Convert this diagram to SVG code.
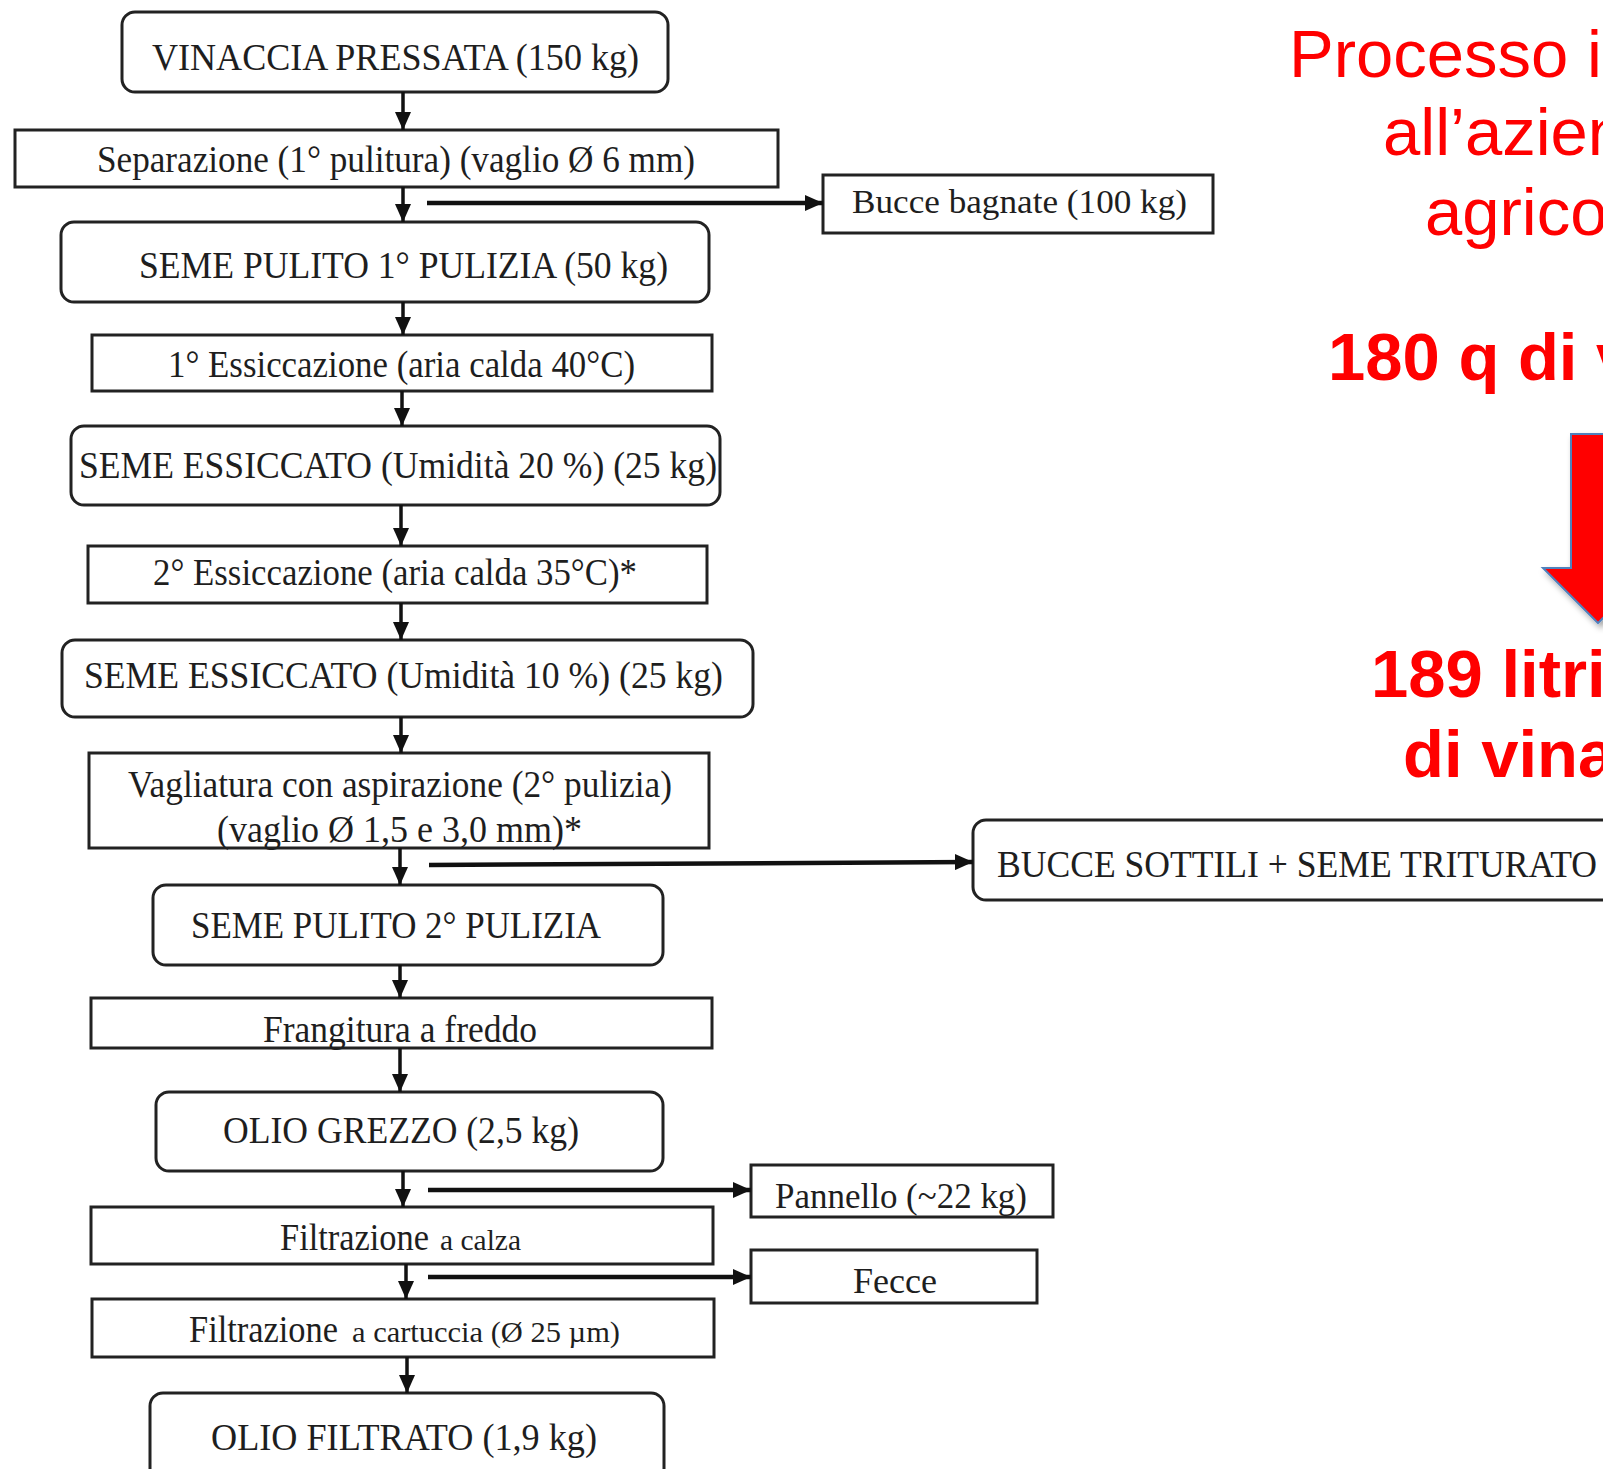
<svg xmlns="http://www.w3.org/2000/svg" width="1603" height="1469" viewBox="0 0 1603 1469">
  <defs>
    <style>
      .box { fill: #ffffff; stroke: #222222; stroke-width: 3; }
      .lbl { font-family: "Liberation Serif", "Times New Roman", serif; fill: #1e1e1e; }
      .flow { stroke: #111111; stroke-width: 3.5; fill: none; }
      .side { stroke: #111111; stroke-width: 4.5; fill: none; }
      .title { font-family: "Liberation Sans", Arial, sans-serif; fill: #ff0000; font-size: 67px; }
      .bold { font-weight: bold; }
    </style>
    <marker id="ah" viewBox="0 0 18 16" refX="18" refY="8" markerWidth="18" markerHeight="16" orient="auto" markerUnits="userSpaceOnUse">
      <path d="M0,0 L18,8 L0,16 z" fill="#111111"/>
    </marker>
    <marker id="ahs" viewBox="0 0 18 16" refX="18" refY="8" markerWidth="18" markerHeight="16" orient="auto" markerUnits="userSpaceOnUse">
      <path d="M0,0 L18,8 L0,16 z" fill="#111111"/>
    </marker>
    <filter id="shadow" x="-20%" y="-20%" width="150%" height="150%">
      <feDropShadow dx="3" dy="4" stdDeviation="3" flood-color="#000000" flood-opacity="0.35"/>
    </filter>
  </defs>

  <rect width="1603" height="1469" fill="#ffffff"/>

  <!-- process steps -->
  <g id="n1">
    <rect class="box" x="122" y="12" width="546" height="80" rx="13"/>
    <text class="lbl" x="152" y="70" font-size="38" textLength="487" lengthAdjust="spacingAndGlyphs">VINACCIA PRESSATA (150 kg)</text>
  </g>
  <g id="n2">
    <rect class="box" x="15" y="130" width="763" height="57"/>
    <text class="lbl" x="97" y="172" font-size="38" textLength="598" lengthAdjust="spacingAndGlyphs">Separazione (1° pulitura) (vaglio Ø 6 mm)</text>
  </g>
  <g id="n2b">
    <rect class="box" x="823" y="175" width="390" height="58"/>
    <text class="lbl" x="852" y="213" font-size="34" textLength="335" lengthAdjust="spacingAndGlyphs">Bucce bagnate (100 kg)</text>
  </g>
  <g id="n3">
    <rect class="box" x="61" y="222" width="648" height="80" rx="13"/>
    <text class="lbl" x="139" y="278" font-size="38" textLength="529" lengthAdjust="spacingAndGlyphs">SEME PULITO 1° PULIZIA  (50 kg)</text>
  </g>
  <g id="n4">
    <rect class="box" x="92" y="335" width="620" height="56"/>
    <text class="lbl" x="168" y="377" font-size="38" textLength="467" lengthAdjust="spacingAndGlyphs">1° Essiccazione (aria calda 40°C)</text>
  </g>
  <g id="n5">
    <rect class="box" x="71" y="426" width="649" height="79" rx="13"/>
    <text class="lbl" x="79" y="478" font-size="38" textLength="638" lengthAdjust="spacingAndGlyphs">SEME ESSICCATO (Umidità 20 %) (25 kg)</text>
  </g>
  <g id="n6">
    <rect class="box" x="88" y="546" width="619" height="57"/>
    <text class="lbl" x="153" y="585" font-size="38" textLength="484" lengthAdjust="spacingAndGlyphs">2° Essiccazione (aria calda 35°C)*</text>
  </g>
  <g id="n7">
    <rect class="box" x="62" y="640" width="691" height="77" rx="13"/>
    <text class="lbl" x="84" y="688" font-size="38" textLength="639" lengthAdjust="spacingAndGlyphs">SEME ESSICCATO (Umidità 10 %) (25 kg)</text>
  </g>
  <g id="n8">
    <rect class="box" x="89" y="753" width="620" height="95"/>
    <text class="lbl" x="128" y="797" font-size="38" textLength="544" lengthAdjust="spacingAndGlyphs">Vagliatura con aspirazione (2° pulizia)</text>
    <text class="lbl" x="217" y="842" font-size="38" textLength="365" lengthAdjust="spacingAndGlyphs">(vaglio Ø  1,5 e 3,0 mm)*</text>
  </g>
  <g id="n8b">
    <rect class="box" x="973" y="820" width="680" height="80" rx="13"/>
    <text class="lbl" x="997" y="877" font-size="38" textLength="600" lengthAdjust="spacingAndGlyphs">BUCCE SOTTILI + SEME TRITURATO</text>
  </g>
  <g id="n9">
    <rect class="box" x="153" y="885" width="510" height="80" rx="13"/>
    <text class="lbl" x="191" y="938" font-size="38" textLength="410" lengthAdjust="spacingAndGlyphs">SEME PULITO 2° PULIZIA</text>
  </g>
  <g id="n10">
    <rect class="box" x="91" y="998" width="621" height="50"/>
    <text class="lbl" x="263" y="1042" font-size="38" textLength="274" lengthAdjust="spacingAndGlyphs">Frangitura a freddo</text>
  </g>
  <g id="n11">
    <rect class="box" x="156" y="1092" width="507" height="79" rx="13"/>
    <text class="lbl" x="223" y="1143" font-size="38" textLength="356" lengthAdjust="spacingAndGlyphs">OLIO GREZZO (2,5 kg)</text>
  </g>
  <g id="n11b">
    <rect class="box" x="751" y="1165" width="302" height="52"/>
    <text class="lbl" x="775" y="1208" font-size="36" textLength="252" lengthAdjust="spacingAndGlyphs">Pannello (~22 kg)</text>
  </g>
  <g id="n12">
    <rect class="box" x="91" y="1207" width="622" height="57"/>
    <text class="lbl" x="280" y="1250" font-size="38" textLength="149" lengthAdjust="spacingAndGlyphs">Filtrazione</text>
    <text class="lbl" x="440" y="1250" font-size="29" textLength="81" lengthAdjust="spacingAndGlyphs">a calza</text>
  </g>
  <g id="n12b">
    <rect class="box" x="751" y="1250" width="286" height="53"/>
    <text class="lbl" x="853" y="1293" font-size="36" textLength="84" lengthAdjust="spacingAndGlyphs">Fecce</text>
  </g>
  <g id="n13">
    <rect class="box" x="92" y="1299" width="622" height="58"/>
    <text class="lbl" x="189" y="1342" font-size="38" textLength="149" lengthAdjust="spacingAndGlyphs">Filtrazione</text>
    <text class="lbl" x="352" y="1342" font-size="29" textLength="268" lengthAdjust="spacingAndGlyphs">a cartuccia (Ø 25 µm)</text>
  </g>
  <g id="n14">
    <rect class="box" x="150" y="1393" width="514" height="95" rx="13"/>
    <text class="lbl" x="211" y="1450" font-size="38" textLength="386" lengthAdjust="spacingAndGlyphs">OLIO FILTRATO (1,9 kg)</text>
  </g>

  <!-- connectors -->
  <g id="connectors">
    <line class="flow" x1="403" y1="92" x2="403" y2="130" marker-end="url(#ah)"/>
    <line class="flow" x1="403" y1="187" x2="403" y2="222" marker-end="url(#ah)"/>
    <line class="flow" x1="403" y1="302" x2="403" y2="335" marker-end="url(#ah)"/>
    <line class="flow" x1="402" y1="391" x2="402" y2="426" marker-end="url(#ah)"/>
    <line class="flow" x1="401" y1="505" x2="401" y2="546" marker-end="url(#ah)"/>
    <line class="flow" x1="401" y1="603" x2="401" y2="640" marker-end="url(#ah)"/>
    <line class="flow" x1="401" y1="717" x2="401" y2="753" marker-end="url(#ah)"/>
    <line class="flow" x1="400" y1="848" x2="400" y2="885" marker-end="url(#ah)"/>
    <line class="flow" x1="400" y1="965" x2="400" y2="998" marker-end="url(#ah)"/>
    <line class="flow" x1="400" y1="1048" x2="400" y2="1092" marker-end="url(#ah)"/>
    <line class="flow" x1="403" y1="1171" x2="403" y2="1207" marker-end="url(#ah)"/>
    <line class="flow" x1="406" y1="1264" x2="406" y2="1299" marker-end="url(#ah)"/>
    <line class="flow" x1="407" y1="1357" x2="407" y2="1393" marker-end="url(#ah)"/>

    <line class="side" x1="427" y1="203" x2="823" y2="203" marker-end="url(#ahs)"/>
    <line class="side" x1="429" y1="865" x2="973" y2="862" marker-end="url(#ahs)"/>
    <line class="side" x1="428" y1="1190" x2="751" y2="1190" marker-end="url(#ahs)"/>
    <line class="side" x1="428" y1="1277" x2="751" y2="1277" marker-end="url(#ahs)"/>
  </g>

  <!-- red summary text and arrow -->
  <g id="summary">
    <text class="title" x="1289" y="77">Processo i</text>
    <text class="title" x="1383" y="155">all’azien</text>
    <text class="title" x="1425" y="235">agrico</text>
    <text class="title bold" x="1328" y="380">180 q di v</text>
    <polygon points="1571,434 1625,434 1625,568 1653,568 1598,623 1543,568 1571,568" fill="#ff0000" stroke="#4f81bd" stroke-width="2" filter="url(#shadow)"/>
    <text class="title bold" x="1371" y="697">189 litri</text>
    <text class="title bold" x="1403" y="777">di vina</text>
  </g>
</svg>
